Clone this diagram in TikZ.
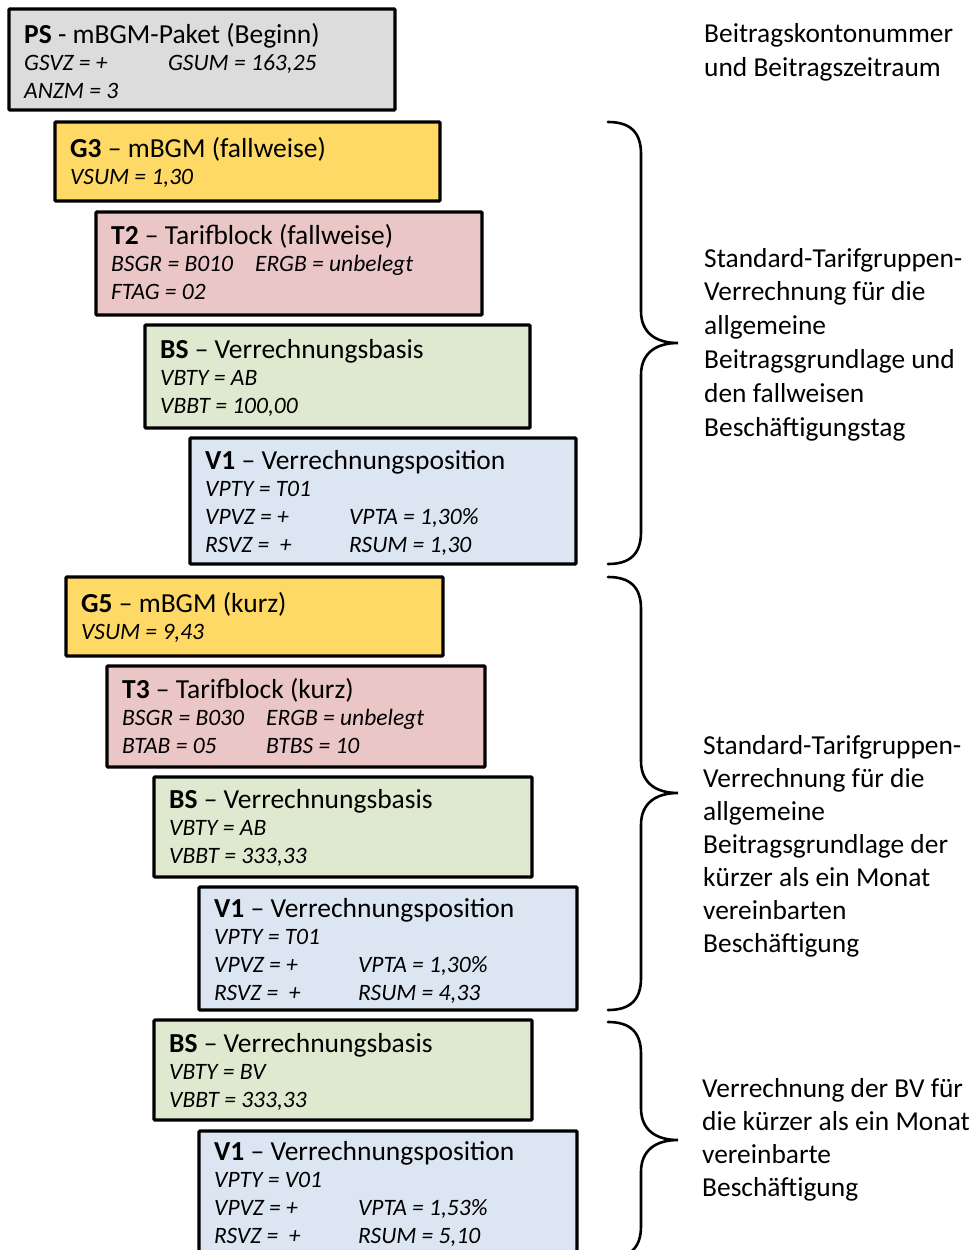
\documentclass[tikz,border=0pt]{standalone}
\usepackage{fontspec}
\setmainfont{Carlito}
\usetikzlibrary{fit}
\definecolor{cgrey}{HTML}{DCDCDC}
\definecolor{cyellow}{HTML}{FFD966}
\definecolor{cpink}{HTML}{EBC6C6}
\definecolor{cgreen}{HTML}{DFE9CF}
\definecolor{cblue}{HTML}{DCE6F2}
\tikzset{
  blk/.style={draw=black, line width=3.2pt, rounded corners=1pt, inner sep=0pt},
  txt/.style={anchor=base west, inner sep=0pt},
  brc/.style={draw=black, line width=2.6pt, line cap=round}
}
\newcommand\ttl[1]{{\fontsize{27.5}{27.7}\selectfont\upshape #1}}
\newcommand\fld[2]{\makebox[144pt][l]{#1}#2}
\newcommand\myfields[1]{\parbox[t]{360pt}{\raggedright\fontsize{23.5}{27.7}\selectfont\itshape #1}}
\newcommand\myside[2]{\parbox[t]{300pt}{\raggedright\fontsize{27.4}{#1}\selectfont #2}}
\newcommand\mkbox[9]{%
  \node[blk, fill=#2, fit={(#3,#4) (#5,#6)}] (#1) {};
  \node[txt] (#1-t) at (#7,#8) {\myfields{#9}};
}
\newcommand\mybrace[4]{% name, top, mid, bottom
  \coordinate (#1-top) at (608,#2);
  \coordinate (#1-tip) at (678,#3);
  \coordinate (#1-bot) at (608,#4);
  \draw[brc] (#1-top) .. controls (630,#2) and (641,#2+10) .. (641,#2+32)
    -- (641,#3-32) .. controls (641,#3-10) and (656,#3) .. (#1-tip)
    .. controls (656,#3) and (641,#3+10) .. (641,#3+32)
    -- (641,#4-32) .. controls (641,#4-10) and (630,#4) .. (#1-bot);
}
\begin{document}
\begin{tikzpicture}[x=1pt,y=-1pt]
\useasboundingbox (0,0) rectangle (973,1250);
\clip (0,0) rectangle (973,1250);
\fill[white] (0,0) rectangle (973,1250);

\mkbox{ps}{cgrey}{9}{9}{395}{110}{24}{43}{%
  \ttl{\textbf{PS} - mBGM-Paket (Beginn)}\\
  \fld{GSVZ = +}{GSUM = 163,25}\\
  ANZM = 3}
\mkbox{g3}{cyellow}{55}{122}{440}{201}{70}{157}{%
  \ttl{\textbf{G3} – mBGM (fallweise)}\\
  VSUM = 1,30}
\mkbox{t2}{cpink}{96}{212}{482}{315}{111}{244}{%
  \ttl{\textbf{T2} – Tarifblock (fallweise)}\\
  \fld{BSGR = B010}{ERGB = unbelegt}\\
  FTAG = 02}
\mkbox{bs1}{cgreen}{145}{325}{530}{428}{160}{358}{%
  \ttl{\textbf{BS} – Verrechnungsbasis}\\
  VBTY = AB\\
  VBBT = 100,00}
\mkbox{v1a}{cblue}{190}{438}{576}{564}{205}{469}{%
  \ttl{\textbf{V1} – Verrechnungsposition}\\
  VPTY = T01\\
  \fld{VPVZ = +}{VPTA = 1,30\%}\\
  \fld{RSVZ =\ \ +}{RSUM = 1,30}}
\mkbox{g5}{cyellow}{66}{577}{443}{656}{81}{612}{%
  \ttl{\textbf{G5} – mBGM (kurz)}\\
  VSUM = 9,43}
\mkbox{t3}{cpink}{107}{666}{485}{767}{122}{698}{%
  \ttl{\textbf{T3} – Tarifblock (kurz)}\\
  \fld{BSGR = B030}{ERGB = unbelegt}\\
  \fld{BTAB = 05}{BTBS = 10}}
\mkbox{bs2}{cgreen}{154}{777}{532}{877}{169}{808}{%
  \ttl{\textbf{BS} – Verrechnungsbasis}\\
  VBTY = AB\\
  VBBT = 333,33}
\mkbox{v1b}{cblue}{199}{887}{577}{1010}{214}{917}{%
  \ttl{\textbf{V1} – Verrechnungsposition}\\
  VPTY = T01\\
  \fld{VPVZ = +}{VPTA = 1,30\%}\\
  \fld{RSVZ =\ \ +}{RSUM = 4,33}}
\mkbox{bs3}{cgreen}{154}{1020}{532}{1120}{169}{1052}{%
  \ttl{\textbf{BS} – Verrechnungsbasis}\\
  VBTY = BV\\
  VBBT = 333,33}
\mkbox{v1c}{cblue}{199}{1131}{577}{1275}{214}{1160}{%
  \ttl{\textbf{V1} – Verrechnungsposition}\\
  VPTY = V01\\
  \fld{VPVZ = +}{VPTA = 1,53\%}\\
  \fld{RSVZ =\ \ +}{RSUM = 5,10}}

\mybrace{b1}{122}{343}{564}
\mybrace{b2}{577}{793}{1010}
\mybrace{b3}{1022}{1140}{1258}

\node[txt] (r1) at (704,42) {\myside{34.5}{Beitragskontonummer\\und Beitragszeitraum}};
\node[txt] (r2) at (704,267) {\myside{33.8}{Standard-Tarifgruppen-\\Verrechnung für die\\allgemeine\\Beitragsgrundlage und\\den fallweisen\\Beschäftigungstag}};
\node[txt] (r3) at (703,754) {\myside{33}{Standard-Tarifgruppen-\\Verrechnung für die\\allgemeine\\Beitragsgrundlage der\\kürzer als ein Monat\\vereinbarten\\Beschäftigung}};
\node[txt] (r4) at (702,1097) {\myside{33}{Verrechnung der BV für\\die kürzer als ein Monat\\vereinbarte\\Beschäftigung}};
\end{tikzpicture}
\end{document}
